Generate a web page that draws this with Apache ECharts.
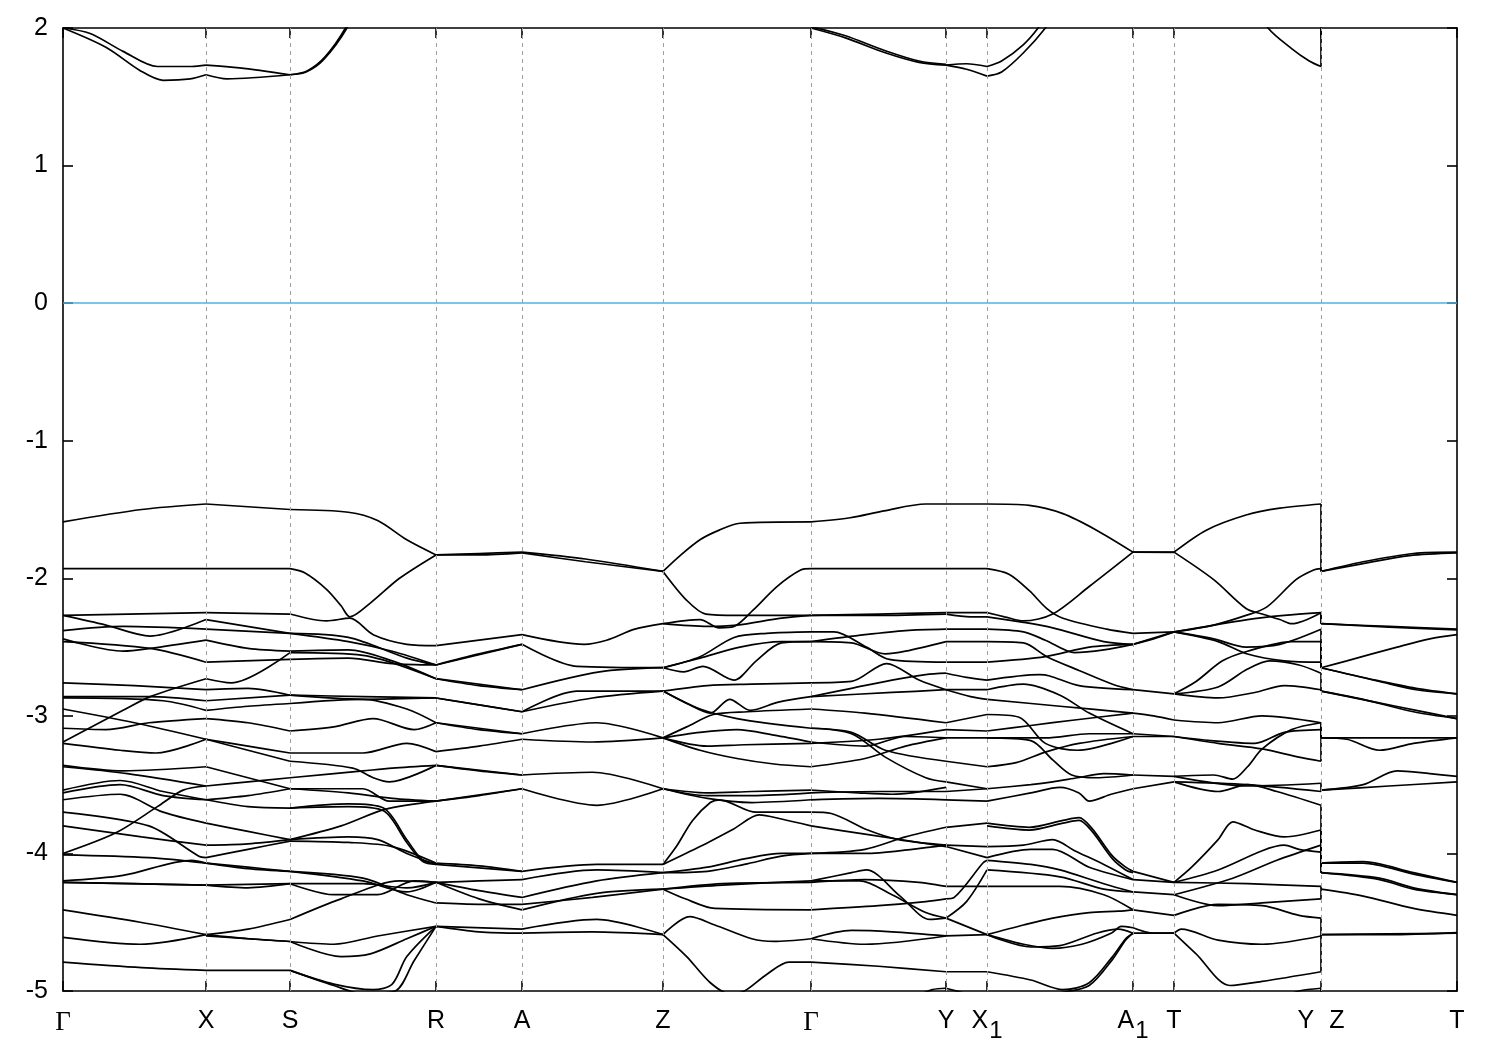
<!DOCTYPE html>
<html><head><meta charset="utf-8">
<script src="https://cdn.jsdelivr.net/npm/echarts@6/dist/echarts.min.js"></script>
<style>html,body{margin:0;padding:0;background:#fff}#c{width:1500px;height:1050px}</style>
</head><body><div id="c"></div>
<script>
// path coordinate of high-symmetry points
const tickPos = [0, 143, 227, 373, 459, 600, 748, 883, 924, 1070, 1111, 1258, 1394];
const tickLabels = ['Γ', 'X', 'S', 'R', 'A', 'Z', 'Γ', 'Y', 'X1', 'A1', 'T', 'Y|Z', 'T'];
const yTicks = [-5, -4, -3, -2, -1, 0, 1, 2];

// each segment: list of lines, each line = [[fraction along segment, energy], ...]
const seg0 = [ // Γ -> X
  [[0,2.0],[0.19,1.96],[0.42,1.83],[0.66,1.72],[0.9,1.72],[1,1.73]],
  [[0,2.0],[0.3,1.86],[0.54,1.69],[0.7,1.62],[0.89,1.63],[1,1.66]],
  [[0,-1.59],[0.55,-1.50],[1,-1.46]],
  [[0,-1.93],[1,-1.93]],
  [[0,-2.27],[1,-2.25]],
  [[0,-2.27],[0.3,-2.34],[0.61,-2.42],[1,-2.30]],
  [[0,-2.38],[0.42,-2.35],[1,-2.37]],
  [[0,-2.44],[0.42,-2.53],[0.61,-2.51],[1,-2.45]],
  [[0,-2.46],[0.61,-2.51],[1,-2.61]],
  [[0,-2.76],[0.5,-2.78],[1,-2.81]],
  [[0,-3.19],[0.42,-2.96],[0.61,-2.86],[1,-2.73]],
  [[0,-2.86],[0.6,-2.86],[1,-2.89]],
  [[0,-2.87],[0.7,-2.89],[1,-2.96]],
  [[0,-2.95],[0.5,-3.05],[1,-3.17]],
  [[0,-3.09],[0.3,-3.10],[0.6,-3.05],[1,-3.02]],
  [[0,-3.20],[0.4,-3.25],[0.65,-3.27],[1,-3.17]],
  [[0,-3.36],[0.42,-3.40],[1,-3.37]],
  [[0,-3.37],[0.45,-3.42],[1,-3.51]],
  [[0,-3.54],[0.4,-3.47],[0.7,-3.55],[1,-3.61]],
  [[0,-3.56],[0.4,-3.50],[0.7,-3.58],[1,-3.61]],
  [[0,-3.61],[0.4,-3.57],[0.7,-3.70],[1,-3.78]],
  [[0,-3.70],[0.6,-3.80],[0.95,-4.02],[1,-4.03]],
  [[0,-3.80],[0.55,-3.88],[1,-3.94]],
  [[0,-4.00],[0.37,-3.85],[0.66,-3.66],[0.84,-3.54],[1,-3.51]],
  [[0,-4.01],[0.6,-4.03],[1,-4.07]],
  [[0,-4.20],[0.42,-4.16],[0.9,-4.05],[1,-4.07]],
  [[0,-4.21],[1,-4.23]],
  [[0,-4.21],[0.5,-4.22],[1,-4.23]],
  [[0,-4.41],[0.54,-4.50],[1,-4.59]],
  [[0,-4.61],[0.54,-4.66],[1,-4.59]],
  [[0,-4.79],[0.55,-4.83],[1,-4.85]]
];
const seg1 = [ // X -> S
  [[0,1.73],[0.4,1.71],[1,1.66]],
  [[0,1.66],[0.25,1.63],[1,1.66]],
  [[0,-1.46],[1,-1.50]],
  [[0,-1.93],[1,-1.93]],
  [[0,-2.25],[1,-2.26]],
  [[0,-2.30],[1,-2.40]],
  [[0,-2.37],[1,-2.40]],
  [[0,-2.45],[0.5,-2.51],[1,-2.53]],
  [[0,-2.61],[1,-2.59]],
  [[0,-2.73],[0.3,-2.76],[1,-2.54]],
  [[0,-2.81],[0.5,-2.80],[1,-2.85]],
  [[0,-2.89],[1,-2.85]],
  [[0,-2.96],[0.5,-2.93],[1,-2.91]],
  [[0,-3.02],[0.5,-3.05],[1,-3.11]],
  [[0,-3.17],[0.5,-3.22],[1,-3.27]],
  [[0,-3.17],[0.5,-3.25],[1,-3.33]],
  [[0,-3.37],[0.5,-3.45],[1,-3.53]],
  [[0,-3.51],[0.5,-3.48],[1,-3.45]],
  [[0,-3.61],[0.5,-3.58],[1,-3.53]],
  [[0,-3.61],[0.5,-3.66],[1,-3.67]],
  [[0,-3.78],[0.5,-3.84],[1,-3.90]],
  [[0,-3.94],[0.5,-3.93],[1,-3.90]],
  [[0,-4.03],[0.5,-3.97],[1,-3.91]],
  [[0,-4.07],[0.5,-4.10],[1,-4.13]],
  [[0,-4.07],[0.5,-4.11],[1,-4.13]],
  [[0,-4.23],[1,-4.22]],
  [[0,-4.23],[0.5,-4.25],[1,-4.22]],
  [[0,-4.59],[0.5,-4.62],[1,-4.64]],
  [[0,-4.59],[0.5,-4.55],[1,-4.48]],
  [[0,-4.60],[1,-4.64]],
  [[0,-4.85],[1,-4.85]]
];
const seg2 = [ // S -> R
  [[0,1.66],[0.11,1.68],[0.23,1.77],[0.39,2.0],[0.55,2.35]],
  [[0,1.66],[0.12,1.69],[0.24,1.79],[0.38,2.0],[0.54,2.35]],
  [[0,-1.50],[0.4,-1.52],[0.6,-1.58],[0.8,-1.72],[1,-1.83]],
  [[0,-1.93],[0.1,-1.96],[0.25,-2.08],[0.35,-2.20],[0.41,-2.28],[0.55,-2.18],[0.75,-2.00],[1,-1.83]],
  [[0,-2.26],[0.25,-2.31],[0.41,-2.29],[0.57,-2.41],[0.8,-2.48],[1,-2.49]],
  [[0,-2.40],[0.4,-2.43],[0.8,-2.58],[1,-2.63]],
  [[0,-2.40],[0.4,-2.46],[0.7,-2.53],[1,-2.63]],
  [[0,-2.53],[0.4,-2.52],[0.7,-2.60],[1,-2.73]],
  [[0,-2.54],[0.5,-2.56],[1,-2.73]],
  [[0,-2.59],[0.4,-2.58],[0.7,-2.62],[1,-2.63]],
  [[0,-2.85],[0.5,-2.86],[1,-2.87]],
  [[0,-2.85],[0.5,-2.88],[1,-2.87]],
  [[0,-2.91],[0.5,-2.88],[0.8,-2.95],[1,-3.05]],
  [[0,-3.11],[0.3,-3.08],[0.57,-3.02],[0.85,-3.10],[1,-3.05]],
  [[0,-3.27],[0.5,-3.27],[0.8,-3.20],[1,-3.26]],
  [[0,-3.33],[0.43,-3.38],[0.57,-3.45],[0.68,-3.48],[1,-3.36]],
  [[0,-3.45],[0.5,-3.40],[0.7,-3.38],[1,-3.36]],
  [[0,-3.53],[0.5,-3.53],[0.68,-3.62],[1,-3.62]],
  [[0,-3.53],[0.4,-3.56],[0.7,-3.60],[1,-3.62]],
  [[0,-3.67],[0.4,-3.64],[0.64,-3.67],[0.8,-3.90],[0.91,-4.05],[1,-4.07]],
  [[0,-3.67],[0.4,-3.66],[0.64,-3.69],[0.8,-3.92],[0.91,-4.06],[1,-4.08]],
  [[0,-3.90],[0.35,-3.80],[0.65,-3.68],[1,-3.62]],
  [[0,-3.90],[0.4,-3.88],[0.6,-3.90],[0.8,-4.00],[1,-4.08]],
  [[0,-3.91],[0.4,-3.92],[0.7,-3.95],[1,-4.07]],
  [[0,-4.13],[0.5,-4.18],[0.8,-4.30],[1,-4.36]],
  [[0,-4.13],[0.5,-4.20],[0.8,-4.28],[1,-4.21]],
  [[0,-4.22],[0.5,-4.22],[0.8,-4.25],[1,-4.21]],
  [[0,-4.22],[0.3,-4.30],[0.6,-4.30],[0.85,-4.20],[1,-4.21]],
  [[0,-4.48],[0.35,-4.33],[0.75,-4.20],[1,-4.21]],
  [[0,-4.64],[0.35,-4.75],[0.55,-4.73],[0.8,-4.62],[1,-4.53]],
  [[0,-4.64],[0.3,-4.66],[0.6,-4.60],[1,-4.53]],
  [[0,-4.85],[0.3,-4.95],[0.57,-4.99],[0.7,-4.95],[0.8,-4.75],[1,-4.53]],
  [[0,-4.85],[0.3,-4.96],[0.5,-5.02],[0.72,-5.0],[0.85,-4.78],[1,-4.53]]
];
const seg3 = [ // R -> A
  [[0,-1.83],[0.5,-1.82],[1,-1.81]],
  [[0,-1.83],[0.5,-1.83],[1,-1.815]],
  [[0,-2.49],[1,-2.41]],
  [[0,-2.63],[1,-2.48]],
  [[0,-2.63],[0.5,-2.55],[1,-2.48]],
  [[0,-2.73],[1,-2.81]],
  [[0,-2.73],[0.5,-2.78],[1,-2.81]],
  [[0,-2.87],[0.5,-2.92],[1,-2.97]],
  [[0,-2.87],[1,-2.97]],
  [[0,-3.05],[0.5,-3.10],[1,-3.13]],
  [[0,-3.05],[1,-3.13]],
  [[0,-3.26],[0.5,-3.22],[1,-3.17]],
  [[0,-3.36],[0.5,-3.40],[1,-3.43]],
  [[0,-3.36],[1,-3.43]],
  [[0,-3.62],[0.5,-3.58],[1,-3.53]],
  [[0,-3.62],[1,-3.53]],
  [[0,-4.07],[0.5,-4.09],[1,-4.13]],
  [[0,-4.08],[1,-4.13]],
  [[0,-4.21],[0.5,-4.20],[1,-4.19]],
  [[0,-4.21],[0.5,-4.27],[1,-4.32]],
  [[0,-4.36],[0.5,-4.37],[1,-4.37]],
  [[0,-4.21],[0.5,-4.33],[1,-4.41]],
  [[0,-4.53],[1,-4.55]],
  [[0,-4.53],[0.5,-4.57],[1,-4.58]]
];
const seg4 = [ // A -> Z
  [[0,-1.81],[0.45,-1.86],[1,-1.95]],
  [[0,-1.815],[0.45,-1.88],[1,-1.95]],
  [[0,-2.41],[0.44,-2.48],[0.6,-2.45],[0.8,-2.37],[1,-2.33]],
  [[0,-2.48],[0.39,-2.64],[1,-2.65]],
  [[0,-2.81],[0.55,-2.68],[1,-2.65]],
  [[0,-2.97],[0.39,-2.82],[1,-2.82]],
  [[0,-2.97],[0.5,-2.87],[1,-2.82]],
  [[0,-3.13],[0.53,-3.05],[1,-3.16]],
  [[0,-3.17],[0.5,-3.19],[1,-3.16]],
  [[0,-3.43],[0.5,-3.41],[1,-3.53]],
  [[0,-3.53],[0.53,-3.65],[1,-3.53]],
  [[0,-4.13],[0.53,-4.08],[1,-4.08]],
  [[0,-4.19],[0.53,-4.12],[1,-4.14]],
  [[0,-4.32],[0.53,-4.20],[1,-4.14]],
  [[0,-4.37],[0.5,-4.32],[1,-4.26]],
  [[0,-4.41],[0.53,-4.29],[1,-4.26]],
  [[0,-4.55],[0.53,-4.48],[1,-4.59]],
  [[0,-4.58],[0.5,-4.57],[1,-4.59]]
];
const seg5 = [ // Z -> Γ
  [[0,-1.95],[0.11,-1.84],[0.25,-1.72],[0.38,-1.65],[0.52,-1.60],[1,-1.59]],
  [[0,-1.95],[0.16,-2.16],[0.29,-2.26],[0.5,-2.27],[1,-2.27]],
  [[0,-2.33],[0.25,-2.30],[0.38,-2.36],[0.48,-2.35],[0.61,-2.23],[0.77,-2.06],[0.93,-1.94],[1,-1.93]],
  [[0,-2.33],[0.3,-2.35],[0.5,-2.34],[0.8,-2.29],[1,-2.27]],
  [[0,-2.65],[0.25,-2.57],[0.48,-2.43],[0.7,-2.40],[1,-2.39]],
  [[0,-2.65],[0.25,-2.58],[0.52,-2.50],[0.8,-2.46],[1,-2.46]],
  [[0,-2.65],[0.14,-2.68],[0.27,-2.64],[0.48,-2.74],[0.63,-2.60],[0.8,-2.47],[1,-2.46]],
  [[0,-2.82],[0.3,-2.78],[0.6,-2.77],[1,-2.76]],
  [[0,-2.82],[0.16,-2.91],[0.32,-2.98],[0.45,-2.88],[0.59,-2.96],[0.78,-2.90],[1,-2.86]],
  [[0,-2.82],[0.25,-2.95],[0.5,-3.02],[0.75,-3.06],[1,-3.09]],
  [[0,-3.16],[0.16,-3.08],[0.34,-2.99],[0.57,-2.97],[1,-2.95]],
  [[0,-3.16],[0.3,-3.22],[0.55,-3.21],[1,-3.20]],
  [[0,-3.16],[0.25,-3.12],[0.5,-3.10],[0.75,-3.14],[1,-3.19]],
  [[0,-3.16],[0.25,-3.25],[0.5,-3.31],[0.75,-3.35],[1,-3.37]],
  [[0,-3.53],[0.3,-3.58],[0.6,-3.58],[1,-3.56]],
  [[0,-3.53],[0.3,-3.56],[0.6,-3.55],[1,-3.54]],
  [[0,-3.53],[0.3,-3.60],[0.6,-3.63],[1,-3.61]],
  [[0,-4.08],[0.09,-3.95],[0.2,-3.76],[0.32,-3.63],[0.38,-3.61],[0.63,-3.70],[1,-3.70]],
  [[0,-4.08],[0.25,-3.95],[0.48,-3.82],[0.65,-3.72],[0.8,-3.75],[1,-3.80]],
  [[0,-4.14],[0.3,-4.10],[0.55,-4.04],[0.8,-4.00],[1,-4.00]],
  [[0,-4.14],[0.3,-4.13],[0.55,-4.08],[0.8,-4.02],[1,-4.00]],
  [[0,-4.26],[0.4,-4.23],[1,-4.20]],
  [[0,-4.26],[0.4,-4.22],[1,-4.21]],
  [[0,-4.26],[0.15,-4.33],[0.35,-4.40],[1,-4.41]],
  [[0,-4.59],[0.18,-4.46],[0.35,-4.52],[0.6,-4.62],[0.75,-4.64],[1,-4.62]],
  [[0,-4.59],[0.16,-4.75],[0.32,-4.94],[0.45,-5.02],[0.55,-5.0],[0.7,-4.88],[0.85,-4.79],[1,-4.79]]
];
const seg6 = [ // Γ -> Y
  [[0,2.0],[0.25,1.93],[0.55,1.82],[0.8,1.75],[1,1.73]],
  [[0,2.01],[0.25,1.945],[0.55,1.835],[0.8,1.76],[1,1.735]],
  [[0,-1.59],[0.29,-1.56],[0.54,-1.51],[0.85,-1.46],[1,-1.46]],
  [[0,-1.93],[1,-1.93]],
  [[0,-2.27],[0.5,-2.26],[1,-2.25]],
  [[0,-2.27],[0.5,-2.27],[1,-2.26]],
  [[0,-2.39],[0.17,-2.39],[0.41,-2.50],[0.58,-2.59],[1,-2.61]],
  [[0,-2.46],[0.3,-2.47],[0.55,-2.55],[0.7,-2.53],[1,-2.46]],
  [[0,-2.46],[0.4,-2.41],[0.7,-2.38],[1,-2.37]],
  [[0,-2.76],[0.3,-2.75],[0.56,-2.62],[0.8,-2.74],[1,-2.81]],
  [[0,-2.86],[0.3,-2.80],[0.6,-2.74],[0.85,-2.70],[1,-2.69]],
  [[0,-2.86],[0.6,-2.83],[1,-2.81]],
  [[0,-2.95],[0.4,-2.98],[1,-3.05]],
  [[0,-3.09],[0.3,-3.12],[0.55,-3.25],[1,-3.33]],
  [[0,-3.09],[0.3,-3.13],[0.55,-3.30],[0.85,-3.45],[1,-3.48]],
  [[0,-3.20],[0.5,-3.17],[1,-3.10]],
  [[0,-3.19],[0.4,-3.22],[0.7,-3.15],[1,-3.16]],
  [[0,-3.37],[0.4,-3.31],[0.7,-3.22],[1,-3.16]],
  [[0,-3.56],[0.5,-3.55],[1,-3.55]],
  [[0,-3.54],[0.35,-3.56],[0.6,-3.57],[1,-3.52]],
  [[0,-3.61],[0.5,-3.60],[1,-3.61]],
  [[0,-3.70],[0.15,-3.71],[0.42,-3.83],[0.65,-3.90],[1,-3.94]],
  [[0,-3.80],[0.4,-3.86],[1,-3.95]],
  [[0,-4.00],[0.4,-4.00],[0.75,-3.97],[1,-3.94]],
  [[0,-4.00],[0.4,-3.97],[0.7,-3.88],[1,-3.81]],
  [[0,-4.20],[0.3,-4.14],[0.41,-4.12],[0.66,-4.31],[0.88,-4.48],[1,-4.47]],
  [[0,-4.20],[0.36,-4.20],[0.6,-4.30],[0.85,-4.43],[1,-4.47]],
  [[0,-4.21],[0.4,-4.19],[0.8,-4.21],[1,-4.24]],
  [[0,-4.41],[0.5,-4.38],[0.85,-4.35],[1,-4.33]],
  [[0,-4.62],[0.3,-4.56],[0.6,-4.57],[1,-4.60]],
  [[0,-4.62],[0.4,-4.66],[1,-4.60]],
  [[0,-4.79],[0.5,-4.82],[1,-4.86]],
  [[0.75,-5.05],[0.9,-4.99],[1,-4.98]]
];
const seg7 = [ // Y -> X1
  [[0,1.73],[0.5,1.74],[1,1.72]],
  [[0,1.73],[0.5,1.70],[1,1.65]],
  [[0,-1.46],[1,-1.46]],
  [[0,-1.93],[1,-1.93]],
  [[0,-2.25],[1,-2.25]],
  [[0,-2.26],[0.6,-2.28],[1,-2.28]],
  [[0,-2.37],[1,-2.37]],
  [[0,-2.46],[1,-2.46]],
  [[0,-2.61],[1,-2.61]],
  [[0,-2.69],[0.5,-2.72],[1,-2.74]],
  [[0,-2.81],[1,-2.81]],
  [[0,-2.81],[0.6,-2.86],[1,-2.88]],
  [[0,-3.05],[1,-2.99]],
  [[0,-3.10],[1,-3.11]],
  [[0,-3.16],[1,-3.16]],
  [[0,-3.33],[1,-3.37]],
  [[0,-3.48],[1,-3.53]],
  [[0,-3.55],[1,-3.53]],
  [[0,-3.61],[1,-3.62]],
  [[0,-3.81],[1,-3.78]],
  [[0,-3.94],[1,-3.95]],
  [[0,-3.95],[1,-4.03]],
  [[0,-4.24],[1,-4.24]],
  [[0,-4.33],[0.2,-4.32],[0.9,-4.07],[1,-4.05]],
  [[0,-4.47],[1,-4.59]],
  [[0,-4.47],[0.5,-4.35],[1,-4.12]],
  [[0,-4.60],[1,-4.59]],
  [[0,-4.86],[1,-4.86]],
  [[0,-4.98],[0.5,-5.02],[1,-5.06]]
];
const seg8 = [ // X1 -> A1
  [[0,1.72],[0.1,1.76],[0.25,1.88],[0.35,2.0],[0.55,2.3]],
  [[0,1.65],[0.1,1.68],[0.25,1.82],[0.4,2.0],[0.6,2.3]],
  [[0,-1.46],[0.29,-1.47],[0.52,-1.53],[0.75,-1.65],[1,-1.81]],
  [[0,-1.93],[0.15,-1.97],[0.29,-2.09],[0.41,-2.22],[0.52,-2.29],[0.82,-2.37],[1,-2.40]],
  [[0,-2.25],[0.12,-2.28],[0.25,-2.31],[0.45,-2.26],[0.7,-2.06],[1,-1.81]],
  [[0,-2.28],[0.25,-2.32],[0.45,-2.36],[0.8,-2.46],[1,-2.48]],
  [[0,-2.37],[0.25,-2.39],[0.4,-2.45],[0.6,-2.54],[0.8,-2.52],[1,-2.48]],
  [[0,-2.46],[0.25,-2.47],[0.41,-2.57],[0.63,-2.67],[0.86,-2.77],[1,-2.81]],
  [[0,-2.61],[0.4,-2.57],[0.7,-2.50],[1,-2.48]],
  [[0,-2.74],[0.36,-2.70],[0.43,-2.71],[0.63,-2.78],[1,-2.81]],
  [[0,-2.81],[0.25,-2.77],[0.5,-2.85],[0.7,-2.98],[1,-3.13]],
  [[0,-2.88],[0.5,-2.93],[1,-2.98]],
  [[0,-2.99],[0.22,-3.01],[0.4,-3.20],[0.62,-3.25],[1,-3.15]],
  [[0,-3.11],[0.3,-3.07],[0.6,-3.03],[1,-2.98]],
  [[0,-3.16],[0.4,-3.16],[0.7,-3.13],[1,-3.13]],
  [[0,-3.16],[0.3,-3.18],[0.45,-3.32],[0.58,-3.43],[0.75,-3.45],[1,-3.43]],
  [[0,-3.37],[0.2,-3.34],[0.41,-3.26],[0.63,-3.20],[1,-3.15]],
  [[0,-3.53],[0.3,-3.50],[0.45,-3.48],[0.62,-3.45],[0.8,-3.42],[1,-3.43]],
  [[0,-3.62],[0.3,-3.56],[0.5,-3.52],[0.63,-3.56],[0.7,-3.62],[0.85,-3.57],[1,-3.53]],
  [[0,-3.78],[0.29,-3.81],[0.52,-3.76],[0.63,-3.74],[0.72,-3.82],[0.86,-4.02],[0.95,-4.10],[1,-4.13]],
  [[0,-3.80],[0.29,-3.83],[0.52,-3.78],[0.63,-3.76],[0.72,-3.84],[0.86,-4.04],[0.95,-4.12],[1,-4.14]],
  [[0,-3.95],[0.25,-3.94],[0.45,-3.90],[0.6,-3.98],[0.8,-4.08],[1,-4.19]],
  [[0,-4.03],[0.3,-3.97],[0.45,-3.97],[0.7,-4.10],[1,-4.19]],
  [[0,-4.05],[0.3,-4.08],[0.5,-4.12],[0.8,-4.22],[1,-4.28]],
  [[0,-4.12],[0.5,-4.17],[0.8,-4.26],[1,-4.28]],
  [[0,-4.24],[0.5,-4.24],[0.8,-4.30],[1,-4.41]],
  [[0,-4.59],[0.25,-4.52],[0.45,-4.47],[0.7,-4.43],[0.9,-4.42],[1,-4.41]],
  [[0,-4.59],[0.25,-4.66],[0.45,-4.69],[0.65,-4.66],[0.85,-4.58],[0.92,-4.53],[1,-4.54]],
  [[0,-4.59],[0.3,-4.68],[0.5,-4.67],[0.75,-4.58],[0.9,-4.55],[1,-4.58]],
  [[0,-4.86],[0.3,-4.92],[0.52,-4.99],[0.7,-4.94],[0.86,-4.75],[0.95,-4.62],[1,-4.58]],
  [[0,-5.06],[0.4,-5.03],[0.52,-5.01],[0.7,-4.96],[0.86,-4.77],[0.95,-4.63],[1,-4.58]]
];
const seg9 = [ // A1 -> T
  [[0,-1.81],[1,-1.81]],
  [[0,-1.81],[1,-1.812]],
  [[0,-2.40],[1,-2.39]],
  [[0,-2.48],[1,-2.39]],
  [[0,-2.48],[0.5,-2.44],[1,-2.39]],
  [[0,-2.81],[1,-2.84]],
  [[0,-2.98],[0.5,-3.0],[1,-3.03]],
  [[0,-3.13],[1,-3.15]],
  [[0,-3.15],[1,-3.15]],
  [[0,-3.43],[1,-3.44]],
  [[0,-3.53],[1,-3.48]],
  [[0,-4.13],[1,-4.21]],
  [[0,-4.19],[1,-4.21]],
  [[0,-4.28],[1,-4.30]],
  [[0,-4.41],[1,-4.45]],
  [[0,-4.54],[0.5,-4.58],[1,-4.58]],
  [[0,-4.58],[0.5,-4.58],[1,-4.58]]
];
const seg10 = [ // T -> Y
  [[0.5,2.25],[0.64,2.0],[0.8,1.85],[0.92,1.76],[1,1.72]],
  [[0,-1.81],[0.22,-1.65],[0.49,-1.54],[0.72,-1.49],[1,-1.46]],
  [[0,-1.81],[0.27,-2.01],[0.49,-2.22],[0.6,-2.26],[0.72,-2.30],[0.8,-2.33],[1,-2.25]],
  [[0,-2.39],[0.27,-2.34],[0.49,-2.27],[0.63,-2.21],[0.83,-2.01],[0.95,-1.94],[1,-1.93]],
  [[0,-2.39],[0.5,-2.30],[0.75,-2.27],[1,-2.25]],
  [[0,-2.39],[0.27,-2.44],[0.49,-2.50],[0.72,-2.48],[1,-2.37]],
  [[0,-2.39],[0.3,-2.46],[0.5,-2.55],[0.75,-2.60],[1,-2.61]],
  [[0,-2.84],[0.15,-2.75],[0.33,-2.60],[0.5,-2.53],[0.8,-2.46],[1,-2.46]],
  [[0,-2.84],[0.3,-2.79],[0.5,-2.66],[0.65,-2.60],[0.85,-2.63],[1,-2.69]],
  [[0,-2.84],[0.3,-2.87],[0.55,-2.83],[0.75,-2.78],[1,-2.81]],
  [[0,-3.03],[0.3,-3.05],[0.6,-3.00],[1,-3.05]],
  [[0,-3.15],[0.25,-3.18],[0.55,-3.20],[0.75,-3.12],[1,-3.10]],
  [[0,-3.15],[0.3,-3.20],[0.6,-3.24],[0.85,-3.30],[1,-3.33]],
  [[0,-3.44],[0.27,-3.43],[0.4,-3.46],[0.5,-3.37],[0.6,-3.24],[0.8,-3.10],[1,-3.05]],
  [[0,-3.48],[0.3,-3.55],[0.5,-3.50],[0.7,-3.55],[1,-3.65]],
  [[0,-3.48],[0.5,-3.50],[1,-3.55]],
  [[0,-3.44],[0.5,-3.51],[1,-3.49]],
  [[0,-4.21],[0.12,-4.10],[0.3,-3.90],[0.4,-3.77],[0.55,-3.83],[0.75,-3.88],[1,-3.83]],
  [[0,-4.21],[0.3,-4.12],[0.6,-3.98],[0.75,-3.94],[0.85,-3.97],[1,-3.99]],
  [[0,-4.30],[0.4,-4.18],[0.7,-4.05],[1,-3.94]],
  [[0,-4.21],[0.5,-4.22],[1,-4.24]],
  [[0,-4.45],[0.3,-4.37],[0.6,-4.38],[0.85,-4.45],[1,-4.47]],
  [[0,-4.30],[0.3,-4.38],[0.6,-4.36],[1,-4.33]],
  [[0,-4.58],[0.05,-4.55],[0.3,-4.63],[0.6,-4.66],[1,-4.60]],
  [[0,-4.58],[0.15,-4.73],[0.38,-4.96],[0.6,-4.93],[1,-4.86]],
  [[0.75,-5.04],[0.85,-5.0],[1,-4.98]]
];
const seg11 = [ // Z -> T
  [[0,-1.95],[0.31,-1.88],[0.68,-1.82],[1,-1.81]],
  [[0,-1.95],[0.3,-1.895],[0.65,-1.835],[1,-1.815]],
  [[0,-2.33],[0.5,-2.35],[1,-2.37]],
  [[0,-2.33],[0.5,-2.355],[1,-2.375]],
  [[0,-2.65],[0.19,-2.60],[0.56,-2.50],[0.8,-2.44],[1,-2.41]],
  [[0,-2.65],[0.43,-2.75],[0.7,-2.81],[1,-2.84]],
  [[0,-2.65],[0.4,-2.74],[0.7,-2.80],[1,-2.84]],
  [[0,-2.82],[0.31,-2.88],[0.68,-2.97],[1,-3.02]],
  [[0,-2.82],[0.4,-2.90],[0.7,-2.96],[1,-3.02]],
  [[0,-3.16],[0.19,-3.17],[0.43,-3.25],[0.68,-3.20],[1,-3.16]],
  [[0,-3.16],[0.5,-3.16],[1,-3.16]],
  [[0,-3.54],[0.31,-3.50],[0.56,-3.40],[0.8,-3.42],[1,-3.44]],
  [[0,-3.54],[0.5,-3.51],[1,-3.48]],
  [[0,-4.07],[0.31,-4.06],[0.68,-4.14],[1,-4.21]],
  [[0,-4.07],[0.31,-4.07],[0.68,-4.15],[1,-4.21]],
  [[0,-4.14],[0.43,-4.18],[0.68,-4.25],[1,-4.30]],
  [[0,-4.14],[0.43,-4.19],[0.68,-4.26],[1,-4.30]],
  [[0,-4.26],[0.31,-4.31],[0.68,-4.40],[1,-4.45]],
  [[0,-4.59],[0.5,-4.585],[1,-4.58]],
  [[0,-4.59],[0.5,-4.59],[1,-4.575]]
];
// vertical jumps at the Y|Z break: [energy at Y, energy at Z]
const yzJump = [
  [1.72,2.3],[-1.46,-1.95],[-1.93,-1.95],[-2.25,-2.33],[-2.25,-2.33],[-2.37,-2.65],[-2.46,-2.65],
  [-2.61,-2.65],[-2.69,-2.82],[-2.81,-2.82],[-3.05,-3.16],[-3.05,-3.16],[-3.10,-3.16],[-3.33,-3.16],
  [-3.49,-3.54],[-3.55,-3.54],[-3.65,-4.07],[-3.83,-4.07],[-3.94,-4.14],[-3.99,-4.14],[-4.24,-4.26],
  [-4.33,-4.26],[-4.47,-4.59],[-4.60,-4.59],[-4.86,-4.59],[-4.98,-5.1]
];

const segments = [seg0, seg1, seg2, seg3, seg4, seg5, seg6, seg7, seg8, seg9, seg10, seg11];
const FONT = "'Liberation Sans Narrow', 'Liberation Sans', Arial, sans-serif";
const lineStyle = { color: '#000', width: 1.7 };
const series = [];

series.push({
  type: 'line', data: [[0, 0]], symbol: 'none', lineStyle: { opacity: 0 }, silent: true, z: 1,
  markLine: {
    silent: true, symbol: ['none', 'none'], label: { show: false }, animation: false,
    data: tickPos.slice(1, -1).map(v => ({ xAxis: v, lineStyle: { type: [4, 4], color: '#a0a0a0', width: 1 } }))
      .concat([{ yAxis: 0, lineStyle: { type: 'solid', color: '#4fb0e6', width: 1.5 } }])
  }
});

segments.forEach((seg, i) => {
  const a = tickPos[i], b = tickPos[i + 1];
  seg.forEach(line => {
    series.push({
      type: 'line', data: line.map(p => [a + p[0] * (b - a), p[1]]),
      symbol: 'none', showSymbol: false, smooth: 0.3, clip: true,
      lineStyle: lineStyle, silent: true, z: 3
    });
  });
});
yzJump.forEach(p => {
  series.push({
    type: 'line', data: [[tickPos[11], p[0]], [tickPos[11], p[1]]],
    symbol: 'none', showSymbol: false, clip: true, lineStyle: lineStyle, silent: true, z: 3
  });
});

function fmtLabel(v) {
  const i = tickPos.indexOf(v);
  const t = tickLabels[i];
  if (t === 'Γ') return '{g|Γ}';
  if (t === 'X1') return '{a|X}{s|1}';
  if (t === 'A1') return '{a|A}{s|1}';
  if (t === 'Y|Z') return '{a|Y}{gap|}{a|Z}';
  return '{a|' + t + '}';
}

const axisLineStyle = { show: true, onZero: false, lineStyle: { color: '#000', width: 1.6 } };
const xTick = { show: true, inside: true, length: 10, customValues: tickPos, lineStyle: { color: '#000', width: 1.6 } };
const yTick = { show: true, inside: true, length: 10, lineStyle: { color: '#000', width: 1.6 } };

const chart = echarts.init(document.getElementById('c'), null, { renderer: 'canvas' });
chart.setOption({
  animation: false,
  backgroundColor: '#fff',
  grid: { left: 63, right: 43, top: 28, bottom: 59 },
  xAxis: [
    {
      type: 'value', min: 0, max: 1394, position: 'bottom',
      axisLine: axisLineStyle, axisTick: xTick, splitLine: { show: false },
      axisLabel: {
        customValues: tickPos, formatter: fmtLabel, margin: 18,
        rich: {
          a: { fontFamily: FONT, fontSize: 25, color: '#000', lineHeight: 30, verticalAlign: 'top', padding: [0, 0, 14, 0] },
          g: { fontFamily: "'Liberation Serif', 'DejaVu Serif', serif", fontSize: 27, color: '#000', lineHeight: 30, verticalAlign: 'top', padding: [0, 0, 14, 0] },
          s: { fontFamily: FONT, fontSize: 24, color: '#000', lineHeight: 30, verticalAlign: 'top', padding: [10, 0, 0, 1] },
          gap: { width: 15, lineHeight: 30 }
        }
      }
    },
    {
      type: 'value', min: 0, max: 1394, position: 'top',
      axisLine: axisLineStyle, axisTick: xTick, splitLine: { show: false }, axisLabel: { show: false }
    }
  ],
  yAxis: [
    {
      type: 'value', min: yTicks[0], max: yTicks[yTicks.length - 1], interval: 1, position: 'left',
      axisLine: axisLineStyle, axisTick: yTick, splitLine: { show: false },
      axisLabel: { fontFamily: FONT, fontSize: 25, color: '#000', margin: 15 }
    },
    {
      type: 'value', min: yTicks[0], max: yTicks[yTicks.length - 1], interval: 1, position: 'right',
      axisLine: axisLineStyle, axisTick: yTick, splitLine: { show: false }, axisLabel: { show: false }
    }
  ],
  series: series
});
</script>
</body></html>
